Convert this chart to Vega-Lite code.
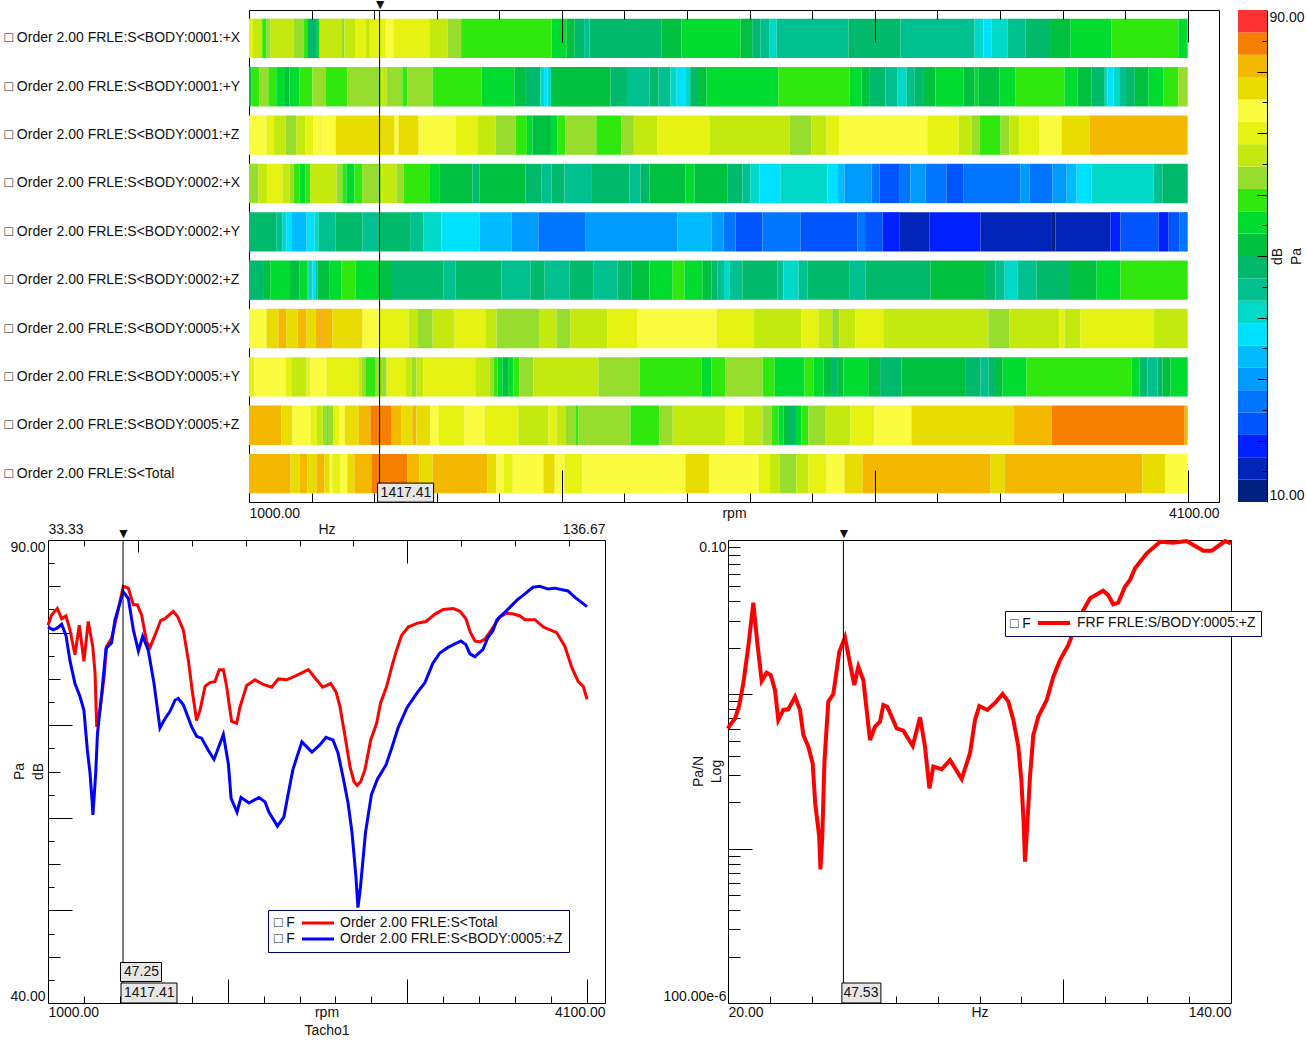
{"$schema":"https://vega.github.io/schema/vega-lite/v6.json","usermeta":{"embedOptions":{"actions":false}},"padding":{"left":1,"top":-4,"right":0,"bottom":0},"spacing":0,
"config":{"font":"Liberation Sans","view":{"stroke":"#000"},"axis":{"labelFontSize":14,"titleFontSize":14,"titleFontWeight":"normal","labelColor":"#111","titleColor":"#111","grid":false,"domain":false,"tickColor":"#000","labelOverlap":false,"labelBound":false,"title":null},"text":{"fontSize":14,"color":"#111"}},
"datasets":{"strips":[
{"ch":"0001:+X","from":1000,"to":1013,"db":70},{"ch":"0001:+X","from":1013,"to":1042,"db":66},{"ch":"0001:+X","from":1042,"to":1056,"db":59},{"ch":"0001:+X","from":1056,"to":1069,"db":63},{"ch":"0001:+X","from":1069,"to":1142,"db":66},{"ch":"0001:+X","from":1142,"to":1174,"db":63},{"ch":"0001:+X","from":1174,"to":1186,"db":59},{"ch":"0001:+X","from":1186,"to":1217,"db":48},{"ch":"0001:+X","from":1217,"to":1225,"db":55},{"ch":"0001:+X","from":1225,"to":1297,"db":66},{"ch":"0001:+X","from":1297,"to":1305,"db":63},{"ch":"0001:+X","from":1305,"to":1341,"db":66},{"ch":"0001:+X","from":1341,"to":1374,"db":70},{"ch":"0001:+X","from":1374,"to":1386,"db":66},{"ch":"0001:+X","from":1386,"to":1437,"db":70},{"ch":"0001:+X","from":1437,"to":1461,"db":74},{"ch":"0001:+X","from":1461,"to":1576,"db":70},{"ch":"0001:+X","from":1576,"to":1635,"db":66},{"ch":"0001:+X","from":1635,"to":1678,"db":63},{"ch":"0001:+X","from":1678,"to":1967,"db":59},{"ch":"0001:+X","from":1967,"to":2015,"db":55},{"ch":"0001:+X","from":2015,"to":2041,"db":52},{"ch":"0001:+X","from":2041,"to":2071,"db":48},{"ch":"0001:+X","from":2071,"to":2088,"db":45},{"ch":"0001:+X","from":2088,"to":2319,"db":48},{"ch":"0001:+X","from":2319,"to":2382,"db":52},{"ch":"0001:+X","from":2382,"to":2571,"db":55},{"ch":"0001:+X","from":2571,"to":2608,"db":52},{"ch":"0001:+X","from":2608,"to":2634,"db":48},{"ch":"0001:+X","from":2634,"to":2664,"db":45},{"ch":"0001:+X","from":2664,"to":2686,"db":41},{"ch":"0001:+X","from":2686,"to":2916,"db":45},{"ch":"0001:+X","from":2916,"to":3082,"db":48},{"ch":"0001:+X","from":3082,"to":3319,"db":45},{"ch":"0001:+X","from":3319,"to":3347,"db":41},{"ch":"0001:+X","from":3347,"to":3374,"db":37},{"ch":"0001:+X","from":3374,"to":3424,"db":41},{"ch":"0001:+X","from":3424,"to":3482,"db":45},{"ch":"0001:+X","from":3482,"to":3560,"db":48},{"ch":"0001:+X","from":3560,"to":3625,"db":52},{"ch":"0001:+X","from":3625,"to":3756,"db":55},{"ch":"0001:+X","from":3756,"to":3970,"db":59},{"ch":"0001:+X","from":3970,"to":4000,"db":55},
{"ch":"0001:+Y","from":1000,"to":1007,"db":52},{"ch":"0001:+Y","from":1007,"to":1033,"db":59},{"ch":"0001:+Y","from":1033,"to":1062,"db":63},{"ch":"0001:+Y","from":1062,"to":1087,"db":59},{"ch":"0001:+Y","from":1087,"to":1115,"db":55},{"ch":"0001:+Y","from":1115,"to":1129,"db":52},{"ch":"0001:+Y","from":1129,"to":1162,"db":55},{"ch":"0001:+Y","from":1162,"to":1203,"db":59},{"ch":"0001:+Y","from":1203,"to":1244,"db":63},{"ch":"0001:+Y","from":1244,"to":1314,"db":59},{"ch":"0001:+Y","from":1314,"to":1423,"db":63},{"ch":"0001:+Y","from":1423,"to":1440,"db":66},{"ch":"0001:+Y","from":1440,"to":1490,"db":63},{"ch":"0001:+Y","from":1490,"to":1506,"db":59},{"ch":"0001:+Y","from":1506,"to":1587,"db":63},{"ch":"0001:+Y","from":1587,"to":1743,"db":59},{"ch":"0001:+Y","from":1743,"to":1848,"db":55},{"ch":"0001:+Y","from":1848,"to":1885,"db":52},{"ch":"0001:+Y","from":1885,"to":1931,"db":48},{"ch":"0001:+Y","from":1931,"to":1943,"db":41},{"ch":"0001:+Y","from":1943,"to":1954,"db":37},{"ch":"0001:+Y","from":1954,"to":1965,"db":41},{"ch":"0001:+Y","from":1965,"to":2155,"db":52},{"ch":"0001:+Y","from":2155,"to":2208,"db":48},{"ch":"0001:+Y","from":2208,"to":2280,"db":45},{"ch":"0001:+Y","from":2280,"to":2309,"db":48},{"ch":"0001:+Y","from":2309,"to":2347,"db":45},{"ch":"0001:+Y","from":2347,"to":2367,"db":41},{"ch":"0001:+Y","from":2367,"to":2394,"db":37},{"ch":"0001:+Y","from":2394,"to":2410,"db":41},{"ch":"0001:+Y","from":2410,"to":2435,"db":48},{"ch":"0001:+Y","from":2435,"to":2462,"db":52},{"ch":"0001:+Y","from":2462,"to":2692,"db":55},{"ch":"0001:+Y","from":2692,"to":2919,"db":59},{"ch":"0001:+Y","from":2919,"to":2958,"db":55},{"ch":"0001:+Y","from":2958,"to":2982,"db":52},{"ch":"0001:+Y","from":2982,"to":3034,"db":48},{"ch":"0001:+Y","from":3034,"to":3073,"db":45},{"ch":"0001:+Y","from":3073,"to":3101,"db":41},{"ch":"0001:+Y","from":3101,"to":3126,"db":45},{"ch":"0001:+Y","from":3126,"to":3157,"db":48},{"ch":"0001:+Y","from":3157,"to":3194,"db":52},{"ch":"0001:+Y","from":3194,"to":3284,"db":55},{"ch":"0001:+Y","from":3284,"to":3319,"db":52},{"ch":"0001:+Y","from":3319,"to":3331,"db":55},{"ch":"0001:+Y","from":3331,"to":3399,"db":52},{"ch":"0001:+Y","from":3399,"to":3450,"db":55},{"ch":"0001:+Y","from":3450,"to":3606,"db":59},{"ch":"0001:+Y","from":3606,"to":3648,"db":55},{"ch":"0001:+Y","from":3648,"to":3692,"db":52},{"ch":"0001:+Y","from":3692,"to":3735,"db":48},{"ch":"0001:+Y","from":3735,"to":3743,"db":41},{"ch":"0001:+Y","from":3743,"to":3763,"db":37},{"ch":"0001:+Y","from":3763,"to":3781,"db":41},{"ch":"0001:+Y","from":3781,"to":3800,"db":45},{"ch":"0001:+Y","from":3800,"to":3831,"db":48},{"ch":"0001:+Y","from":3831,"to":3875,"db":52},{"ch":"0001:+Y","from":3875,"to":3923,"db":55},{"ch":"0001:+Y","from":3923,"to":3970,"db":59},{"ch":"0001:+Y","from":3970,"to":4000,"db":63},
{"ch":"0001:+Z","from":1000,"to":1056,"db":74},{"ch":"0001:+Z","from":1056,"to":1078,"db":70},{"ch":"0001:+Z","from":1078,"to":1117,"db":66},{"ch":"0001:+Z","from":1117,"to":1151,"db":63},{"ch":"0001:+Z","from":1151,"to":1180,"db":66},{"ch":"0001:+Z","from":1180,"to":1205,"db":70},{"ch":"0001:+Z","from":1205,"to":1227,"db":74},{"ch":"0001:+Z","from":1227,"to":1229,"db":77},{"ch":"0001:+Z","from":1229,"to":1277,"db":74},{"ch":"0001:+Z","from":1277,"to":1465,"db":77},{"ch":"0001:+Z","from":1465,"to":1478,"db":74},{"ch":"0001:+Z","from":1478,"to":1542,"db":77},{"ch":"0001:+Z","from":1542,"to":1660,"db":74},{"ch":"0001:+Z","from":1660,"to":1730,"db":70},{"ch":"0001:+Z","from":1730,"to":1788,"db":66},{"ch":"0001:+Z","from":1788,"to":1852,"db":63},{"ch":"0001:+Z","from":1852,"to":1888,"db":59},{"ch":"0001:+Z","from":1888,"to":1906,"db":55},{"ch":"0001:+Z","from":1906,"to":1965,"db":52},{"ch":"0001:+Z","from":1965,"to":1986,"db":55},{"ch":"0001:+Z","from":1986,"to":2011,"db":59},{"ch":"0001:+Z","from":2011,"to":2110,"db":63},{"ch":"0001:+Z","from":2110,"to":2190,"db":59},{"ch":"0001:+Z","from":2190,"to":2230,"db":63},{"ch":"0001:+Z","from":2230,"to":2305,"db":66},{"ch":"0001:+Z","from":2305,"to":2471,"db":70},{"ch":"0001:+Z","from":2471,"to":2728,"db":66},{"ch":"0001:+Z","from":2728,"to":2797,"db":63},{"ch":"0001:+Z","from":2797,"to":2846,"db":66},{"ch":"0001:+Z","from":2846,"to":2887,"db":70},{"ch":"0001:+Z","from":2887,"to":3168,"db":74},{"ch":"0001:+Z","from":3168,"to":3268,"db":70},{"ch":"0001:+Z","from":3268,"to":3309,"db":66},{"ch":"0001:+Z","from":3309,"to":3335,"db":63},{"ch":"0001:+Z","from":3335,"to":3402,"db":59},{"ch":"0001:+Z","from":3402,"to":3430,"db":63},{"ch":"0001:+Z","from":3430,"to":3462,"db":66},{"ch":"0001:+Z","from":3462,"to":3526,"db":70},{"ch":"0001:+Z","from":3526,"to":3597,"db":74},{"ch":"0001:+Z","from":3597,"to":3687,"db":77},{"ch":"0001:+Z","from":3687,"to":4000,"db":81},
{"ch":"0002:+X","from":1000,"to":1030,"db":63},{"ch":"0002:+X","from":1030,"to":1058,"db":66},{"ch":"0002:+X","from":1058,"to":1107,"db":70},{"ch":"0002:+X","from":1107,"to":1130,"db":66},{"ch":"0002:+X","from":1130,"to":1142,"db":63},{"ch":"0002:+X","from":1142,"to":1162,"db":59},{"ch":"0002:+X","from":1162,"to":1180,"db":55},{"ch":"0002:+X","from":1180,"to":1196,"db":59},{"ch":"0002:+X","from":1196,"to":1280,"db":66},{"ch":"0002:+X","from":1280,"to":1298,"db":63},{"ch":"0002:+X","from":1298,"to":1311,"db":59},{"ch":"0002:+X","from":1311,"to":1337,"db":55},{"ch":"0002:+X","from":1337,"to":1363,"db":59},{"ch":"0002:+X","from":1363,"to":1423,"db":63},{"ch":"0002:+X","from":1423,"to":1472,"db":66},{"ch":"0002:+X","from":1472,"to":1494,"db":63},{"ch":"0002:+X","from":1494,"to":1576,"db":59},{"ch":"0002:+X","from":1576,"to":1608,"db":55},{"ch":"0002:+X","from":1608,"to":1714,"db":52},{"ch":"0002:+X","from":1714,"to":1737,"db":48},{"ch":"0002:+X","from":1737,"to":1884,"db":52},{"ch":"0002:+X","from":1884,"to":1934,"db":48},{"ch":"0002:+X","from":1934,"to":1967,"db":45},{"ch":"0002:+X","from":1967,"to":2008,"db":48},{"ch":"0002:+X","from":2008,"to":2096,"db":45},{"ch":"0002:+X","from":2096,"to":2216,"db":48},{"ch":"0002:+X","from":2216,"to":2251,"db":45},{"ch":"0002:+X","from":2251,"to":2280,"db":48},{"ch":"0002:+X","from":2280,"to":2395,"db":52},{"ch":"0002:+X","from":2395,"to":2424,"db":55},{"ch":"0002:+X","from":2424,"to":2529,"db":52},{"ch":"0002:+X","from":2529,"to":2577,"db":48},{"ch":"0002:+X","from":2577,"to":2602,"db":45},{"ch":"0002:+X","from":2602,"to":2632,"db":41},{"ch":"0002:+X","from":2632,"to":2698,"db":37},{"ch":"0002:+X","from":2698,"to":2848,"db":41},{"ch":"0002:+X","from":2848,"to":2880,"db":37},{"ch":"0002:+X","from":2880,"to":2903,"db":34},{"ch":"0002:+X","from":2903,"to":2990,"db":30},{"ch":"0002:+X","from":2990,"to":3015,"db":26},{"ch":"0002:+X","from":3015,"to":3080,"db":23},{"ch":"0002:+X","from":3080,"to":3114,"db":26},{"ch":"0002:+X","from":3114,"to":3162,"db":30},{"ch":"0002:+X","from":3162,"to":3229,"db":26},{"ch":"0002:+X","from":3229,"to":3284,"db":23},{"ch":"0002:+X","from":3284,"to":3466,"db":26},{"ch":"0002:+X","from":3466,"to":3494,"db":30},{"ch":"0002:+X","from":3494,"to":3568,"db":26},{"ch":"0002:+X","from":3568,"to":3613,"db":30},{"ch":"0002:+X","from":3613,"to":3645,"db":34},{"ch":"0002:+X","from":3645,"to":3692,"db":37},{"ch":"0002:+X","from":3692,"to":3891,"db":41},{"ch":"0002:+X","from":3891,"to":3919,"db":45},{"ch":"0002:+X","from":3919,"to":4000,"db":48},
{"ch":"0002:+Y","from":1000,"to":1087,"db":48},{"ch":"0002:+Y","from":1087,"to":1106,"db":45},{"ch":"0002:+Y","from":1106,"to":1119,"db":41},{"ch":"0002:+Y","from":1119,"to":1135,"db":37},{"ch":"0002:+Y","from":1135,"to":1184,"db":34},{"ch":"0002:+Y","from":1184,"to":1209,"db":37},{"ch":"0002:+Y","from":1209,"to":1223,"db":41},{"ch":"0002:+Y","from":1223,"to":1277,"db":45},{"ch":"0002:+Y","from":1277,"to":1363,"db":48},{"ch":"0002:+Y","from":1363,"to":1419,"db":45},{"ch":"0002:+Y","from":1419,"to":1515,"db":48},{"ch":"0002:+Y","from":1515,"to":1558,"db":45},{"ch":"0002:+Y","from":1558,"to":1615,"db":41},{"ch":"0002:+Y","from":1615,"to":1737,"db":37},{"ch":"0002:+Y","from":1737,"to":1839,"db":34},{"ch":"0002:+Y","from":1839,"to":1925,"db":30},{"ch":"0002:+Y","from":1925,"to":2076,"db":26},{"ch":"0002:+Y","from":2076,"to":2370,"db":30},{"ch":"0002:+Y","from":2370,"to":2478,"db":34},{"ch":"0002:+Y","from":2478,"to":2517,"db":30},{"ch":"0002:+Y","from":2517,"to":2555,"db":26},{"ch":"0002:+Y","from":2555,"to":2641,"db":23},{"ch":"0002:+Y","from":2641,"to":2763,"db":26},{"ch":"0002:+Y","from":2763,"to":2944,"db":23},{"ch":"0002:+Y","from":2944,"to":2969,"db":26},{"ch":"0002:+Y","from":2969,"to":3025,"db":23},{"ch":"0002:+Y","from":3025,"to":3080,"db":19},{"ch":"0002:+Y","from":3080,"to":3174,"db":16},{"ch":"0002:+Y","from":3174,"to":3338,"db":19},{"ch":"0002:+Y","from":3338,"to":3566,"db":16},{"ch":"0002:+Y","from":3566,"to":3577,"db":12},{"ch":"0002:+Y","from":3577,"to":3753,"db":16},{"ch":"0002:+Y","from":3753,"to":3785,"db":19},{"ch":"0002:+Y","from":3785,"to":3907,"db":23},{"ch":"0002:+Y","from":3907,"to":3939,"db":19},{"ch":"0002:+Y","from":3939,"to":3974,"db":23},{"ch":"0002:+Y","from":3974,"to":4000,"db":26},
{"ch":"0002:+Z","from":1000,"to":1045,"db":48},{"ch":"0002:+Z","from":1045,"to":1069,"db":52},{"ch":"0002:+Z","from":1069,"to":1131,"db":55},{"ch":"0002:+Z","from":1131,"to":1162,"db":52},{"ch":"0002:+Z","from":1162,"to":1187,"db":55},{"ch":"0002:+Z","from":1187,"to":1191,"db":45},{"ch":"0002:+Z","from":1191,"to":1203,"db":41},{"ch":"0002:+Z","from":1203,"to":1212,"db":37},{"ch":"0002:+Z","from":1212,"to":1219,"db":45},{"ch":"0002:+Z","from":1219,"to":1256,"db":52},{"ch":"0002:+Z","from":1256,"to":1295,"db":55},{"ch":"0002:+Z","from":1295,"to":1341,"db":59},{"ch":"0002:+Z","from":1341,"to":1419,"db":55},{"ch":"0002:+Z","from":1419,"to":1457,"db":52},{"ch":"0002:+Z","from":1457,"to":1621,"db":48},{"ch":"0002:+Z","from":1621,"to":1660,"db":45},{"ch":"0002:+Z","from":1660,"to":1807,"db":48},{"ch":"0002:+Z","from":1807,"to":1900,"db":45},{"ch":"0002:+Z","from":1900,"to":1945,"db":48},{"ch":"0002:+Z","from":1945,"to":2024,"db":45},{"ch":"0002:+Z","from":2024,"to":2100,"db":48},{"ch":"0002:+Z","from":2100,"to":2178,"db":45},{"ch":"0002:+Z","from":2178,"to":2222,"db":48},{"ch":"0002:+Z","from":2222,"to":2280,"db":52},{"ch":"0002:+Z","from":2280,"to":2354,"db":55},{"ch":"0002:+Z","from":2354,"to":2392,"db":59},{"ch":"0002:+Z","from":2392,"to":2450,"db":55},{"ch":"0002:+Z","from":2450,"to":2478,"db":52},{"ch":"0002:+Z","from":2478,"to":2498,"db":48},{"ch":"0002:+Z","from":2498,"to":2518,"db":45},{"ch":"0002:+Z","from":2518,"to":2535,"db":41},{"ch":"0002:+Z","from":2535,"to":2577,"db":45},{"ch":"0002:+Z","from":2577,"to":2689,"db":48},{"ch":"0002:+Z","from":2689,"to":2708,"db":45},{"ch":"0002:+Z","from":2708,"to":2756,"db":41},{"ch":"0002:+Z","from":2756,"to":2785,"db":45},{"ch":"0002:+Z","from":2785,"to":2918,"db":48},{"ch":"0002:+Z","from":2918,"to":2970,"db":45},{"ch":"0002:+Z","from":2970,"to":3178,"db":48},{"ch":"0002:+Z","from":3178,"to":3352,"db":52},{"ch":"0002:+Z","from":3352,"to":3386,"db":48},{"ch":"0002:+Z","from":3386,"to":3415,"db":45},{"ch":"0002:+Z","from":3415,"to":3457,"db":41},{"ch":"0002:+Z","from":3457,"to":3517,"db":45},{"ch":"0002:+Z","from":3517,"to":3624,"db":48},{"ch":"0002:+Z","from":3624,"to":3708,"db":52},{"ch":"0002:+Z","from":3708,"to":3785,"db":55},{"ch":"0002:+Z","from":3785,"to":4000,"db":59},
{"ch":"0005:+X","from":1000,"to":1056,"db":74},{"ch":"0005:+X","from":1056,"to":1094,"db":77},{"ch":"0005:+X","from":1094,"to":1119,"db":81},{"ch":"0005:+X","from":1119,"to":1155,"db":77},{"ch":"0005:+X","from":1155,"to":1184,"db":81},{"ch":"0005:+X","from":1184,"to":1212,"db":77},{"ch":"0005:+X","from":1212,"to":1225,"db":81},{"ch":"0005:+X","from":1225,"to":1229,"db":85},{"ch":"0005:+X","from":1229,"to":1266,"db":81},{"ch":"0005:+X","from":1266,"to":1363,"db":77},{"ch":"0005:+X","from":1363,"to":1419,"db":74},{"ch":"0005:+X","from":1419,"to":1510,"db":70},{"ch":"0005:+X","from":1510,"to":1538,"db":66},{"ch":"0005:+X","from":1538,"to":1587,"db":63},{"ch":"0005:+X","from":1587,"to":1657,"db":66},{"ch":"0005:+X","from":1657,"to":1755,"db":70},{"ch":"0005:+X","from":1755,"to":1791,"db":66},{"ch":"0005:+X","from":1791,"to":1929,"db":63},{"ch":"0005:+X","from":1929,"to":1983,"db":66},{"ch":"0005:+X","from":1983,"to":2027,"db":63},{"ch":"0005:+X","from":2027,"to":2146,"db":66},{"ch":"0005:+X","from":2146,"to":2242,"db":70},{"ch":"0005:+X","from":2242,"to":2494,"db":74},{"ch":"0005:+X","from":2494,"to":2613,"db":70},{"ch":"0005:+X","from":2613,"to":2765,"db":66},{"ch":"0005:+X","from":2765,"to":2820,"db":70},{"ch":"0005:+X","from":2820,"to":2864,"db":66},{"ch":"0005:+X","from":2864,"to":2887,"db":63},{"ch":"0005:+X","from":2887,"to":2938,"db":66},{"ch":"0005:+X","from":2938,"to":3027,"db":70},{"ch":"0005:+X","from":3027,"to":3363,"db":66},{"ch":"0005:+X","from":3363,"to":3430,"db":63},{"ch":"0005:+X","from":3430,"to":3590,"db":66},{"ch":"0005:+X","from":3590,"to":3606,"db":70},{"ch":"0005:+X","from":3606,"to":3657,"db":66},{"ch":"0005:+X","from":3657,"to":3891,"db":70},{"ch":"0005:+X","from":3891,"to":4000,"db":66},
{"ch":"0005:+Y","from":1000,"to":1017,"db":70},{"ch":"0005:+Y","from":1017,"to":1117,"db":74},{"ch":"0005:+Y","from":1117,"to":1135,"db":70},{"ch":"0005:+Y","from":1135,"to":1184,"db":66},{"ch":"0005:+Y","from":1184,"to":1196,"db":70},{"ch":"0005:+Y","from":1196,"to":1248,"db":74},{"ch":"0005:+Y","from":1248,"to":1350,"db":70},{"ch":"0005:+Y","from":1350,"to":1359,"db":66},{"ch":"0005:+Y","from":1359,"to":1372,"db":63},{"ch":"0005:+Y","from":1372,"to":1405,"db":59},{"ch":"0005:+Y","from":1405,"to":1440,"db":63},{"ch":"0005:+Y","from":1440,"to":1500,"db":70},{"ch":"0005:+Y","from":1500,"to":1519,"db":66},{"ch":"0005:+Y","from":1519,"to":1535,"db":63},{"ch":"0005:+Y","from":1535,"to":1558,"db":66},{"ch":"0005:+Y","from":1558,"to":1723,"db":70},{"ch":"0005:+Y","from":1723,"to":1769,"db":66},{"ch":"0005:+Y","from":1769,"to":1782,"db":63},{"ch":"0005:+Y","from":1782,"to":1794,"db":59},{"ch":"0005:+Y","from":1794,"to":1810,"db":55},{"ch":"0005:+Y","from":1810,"to":1828,"db":52},{"ch":"0005:+Y","from":1828,"to":1845,"db":55},{"ch":"0005:+Y","from":1845,"to":1864,"db":59},{"ch":"0005:+Y","from":1864,"to":1909,"db":63},{"ch":"0005:+Y","from":1909,"to":2117,"db":66},{"ch":"0005:+Y","from":2117,"to":2248,"db":63},{"ch":"0005:+Y","from":2248,"to":2446,"db":59},{"ch":"0005:+Y","from":2446,"to":2478,"db":55},{"ch":"0005:+Y","from":2478,"to":2523,"db":59},{"ch":"0005:+Y","from":2523,"to":2641,"db":63},{"ch":"0005:+Y","from":2641,"to":2680,"db":59},{"ch":"0005:+Y","from":2680,"to":2775,"db":55},{"ch":"0005:+Y","from":2775,"to":2804,"db":59},{"ch":"0005:+Y","from":2804,"to":2836,"db":55},{"ch":"0005:+Y","from":2836,"to":2863,"db":52},{"ch":"0005:+Y","from":2863,"to":2882,"db":48},{"ch":"0005:+Y","from":2882,"to":2900,"db":52},{"ch":"0005:+Y","from":2900,"to":2979,"db":55},{"ch":"0005:+Y","from":2979,"to":3017,"db":52},{"ch":"0005:+Y","from":3017,"to":3085,"db":48},{"ch":"0005:+Y","from":3085,"to":3291,"db":52},{"ch":"0005:+Y","from":3291,"to":3338,"db":48},{"ch":"0005:+Y","from":3338,"to":3363,"db":45},{"ch":"0005:+Y","from":3363,"to":3384,"db":48},{"ch":"0005:+Y","from":3384,"to":3408,"db":52},{"ch":"0005:+Y","from":3408,"to":3485,"db":55},{"ch":"0005:+Y","from":3485,"to":3820,"db":59},{"ch":"0005:+Y","from":3820,"to":3846,"db":55},{"ch":"0005:+Y","from":3846,"to":3871,"db":48},{"ch":"0005:+Y","from":3871,"to":3904,"db":45},{"ch":"0005:+Y","from":3904,"to":3919,"db":48},{"ch":"0005:+Y","from":3919,"to":3945,"db":52},{"ch":"0005:+Y","from":3945,"to":4000,"db":55},
{"ch":"0005:+Z","from":1000,"to":1103,"db":81},{"ch":"0005:+Z","from":1103,"to":1139,"db":77},{"ch":"0005:+Z","from":1139,"to":1196,"db":74},{"ch":"0005:+Z","from":1196,"to":1217,"db":70},{"ch":"0005:+Z","from":1217,"to":1236,"db":66},{"ch":"0005:+Z","from":1236,"to":1248,"db":63},{"ch":"0005:+Z","from":1248,"to":1252,"db":59},{"ch":"0005:+Z","from":1252,"to":1270,"db":63},{"ch":"0005:+Z","from":1270,"to":1289,"db":70},{"ch":"0005:+Z","from":1289,"to":1306,"db":74},{"ch":"0005:+Z","from":1306,"to":1350,"db":77},{"ch":"0005:+Z","from":1350,"to":1388,"db":81},{"ch":"0005:+Z","from":1388,"to":1456,"db":85},{"ch":"0005:+Z","from":1456,"to":1488,"db":81},{"ch":"0005:+Z","from":1488,"to":1522,"db":77},{"ch":"0005:+Z","from":1522,"to":1535,"db":81},{"ch":"0005:+Z","from":1535,"to":1580,"db":77},{"ch":"0005:+Z","from":1580,"to":1607,"db":74},{"ch":"0005:+Z","from":1607,"to":1689,"db":70},{"ch":"0005:+Z","from":1689,"to":1753,"db":74},{"ch":"0005:+Z","from":1753,"to":1861,"db":70},{"ch":"0005:+Z","from":1861,"to":1957,"db":66},{"ch":"0005:+Z","from":1957,"to":1983,"db":70},{"ch":"0005:+Z","from":1983,"to":2011,"db":66},{"ch":"0005:+Z","from":2011,"to":2043,"db":63},{"ch":"0005:+Z","from":2043,"to":2053,"db":59},{"ch":"0005:+Z","from":2053,"to":2219,"db":63},{"ch":"0005:+Z","from":2219,"to":2312,"db":59},{"ch":"0005:+Z","from":2312,"to":2354,"db":63},{"ch":"0005:+Z","from":2354,"to":2523,"db":66},{"ch":"0005:+Z","from":2523,"to":2581,"db":70},{"ch":"0005:+Z","from":2581,"to":2641,"db":66},{"ch":"0005:+Z","from":2641,"to":2670,"db":63},{"ch":"0005:+Z","from":2670,"to":2692,"db":59},{"ch":"0005:+Z","from":2692,"to":2708,"db":55},{"ch":"0005:+Z","from":2708,"to":2729,"db":52},{"ch":"0005:+Z","from":2729,"to":2748,"db":48},{"ch":"0005:+Z","from":2748,"to":2765,"db":55},{"ch":"0005:+Z","from":2765,"to":2788,"db":59},{"ch":"0005:+Z","from":2788,"to":2843,"db":63},{"ch":"0005:+Z","from":2843,"to":2922,"db":66},{"ch":"0005:+Z","from":2922,"to":2999,"db":70},{"ch":"0005:+Z","from":2999,"to":3117,"db":74},{"ch":"0005:+Z","from":3117,"to":3443,"db":77},{"ch":"0005:+Z","from":3443,"to":3565,"db":81},{"ch":"0005:+Z","from":3565,"to":3990,"db":85},{"ch":"0005:+Z","from":3990,"to":4000,"db":81},
{"ch":"Total","from":1000,"to":1133,"db":81},{"ch":"Total","from":1133,"to":1162,"db":77},{"ch":"Total","from":1162,"to":1187,"db":81},{"ch":"Total","from":1187,"to":1216,"db":77},{"ch":"Total","from":1216,"to":1241,"db":81},{"ch":"Total","from":1241,"to":1258,"db":77},{"ch":"Total","from":1258,"to":1266,"db":74},{"ch":"Total","from":1266,"to":1293,"db":70},{"ch":"Total","from":1293,"to":1314,"db":74},{"ch":"Total","from":1314,"to":1337,"db":77},{"ch":"Total","from":1337,"to":1391,"db":81},{"ch":"Total","from":1391,"to":1506,"db":85},{"ch":"Total","from":1506,"to":1545,"db":81},{"ch":"Total","from":1545,"to":1587,"db":77},{"ch":"Total","from":1587,"to":1762,"db":81},{"ch":"Total","from":1762,"to":1791,"db":77},{"ch":"Total","from":1791,"to":1814,"db":74},{"ch":"Total","from":1814,"to":1843,"db":70},{"ch":"Total","from":1843,"to":1941,"db":74},{"ch":"Total","from":1941,"to":1977,"db":77},{"ch":"Total","from":1977,"to":2008,"db":74},{"ch":"Total","from":2008,"to":2065,"db":70},{"ch":"Total","from":2065,"to":2395,"db":74},{"ch":"Total","from":2395,"to":2471,"db":77},{"ch":"Total","from":2471,"to":2629,"db":74},{"ch":"Total","from":2629,"to":2664,"db":70},{"ch":"Total","from":2664,"to":2696,"db":66},{"ch":"Total","from":2696,"to":2749,"db":63},{"ch":"Total","from":2749,"to":2788,"db":66},{"ch":"Total","from":2788,"to":2846,"db":70},{"ch":"Total","from":2846,"to":2903,"db":74},{"ch":"Total","from":2903,"to":2961,"db":77},{"ch":"Total","from":2961,"to":3370,"db":81},{"ch":"Total","from":3370,"to":3415,"db":77},{"ch":"Total","from":3415,"to":3855,"db":81},{"ch":"Total","from":3855,"to":3929,"db":77},{"ch":"Total","from":3929,"to":4000,"db":74}
],
"bands":[{"lo":10,"hi":13.64,"db":12},{"lo":13.64,"hi":17.27,"db":16},{"lo":17.27,"hi":20.91,"db":19},{"lo":20.91,"hi":24.55,"db":23},{"lo":24.55,"hi":28.18,"db":26},{"lo":28.18,"hi":31.82,"db":30},{"lo":31.82,"hi":35.45,"db":34},{"lo":35.45,"hi":39.09,"db":37},{"lo":39.09,"hi":42.73,"db":41},{"lo":42.73,"hi":46.36,"db":45},{"lo":46.36,"hi":50,"db":48},{"lo":50,"hi":53.64,"db":52},{"lo":53.64,"hi":57.27,"db":55},{"lo":57.27,"hi":60.91,"db":59},{"lo":60.91,"hi":64.55,"db":63},{"lo":64.55,"hi":68.18,"db":66},{"lo":68.18,"hi":71.82,"db":70},{"lo":71.82,"hi":75.45,"db":74},{"lo":75.45,"hi":79.09,"db":77},{"lo":79.09,"hi":82.73,"db":81},{"lo":82.73,"hi":86.36,"db":85},{"lo":86.36,"hi":90,"db":88}],
"orders":[
{"series":"Total","rpm":1000,"dB":80.8},{"series":"Total","rpm":1020,"dB":81.9},{"series":"Total","rpm":1052,"dB":82.6},{"series":"Total","rpm":1076,"dB":81.5},{"series":"Total","rpm":1100,"dB":81.8},{"series":"Total","rpm":1122,"dB":80.3},{"series":"Total","rpm":1150,"dB":77.6},{"series":"Total","rpm":1174,"dB":80.8},{"series":"Total","rpm":1200,"dB":76.9},{"series":"Total","rpm":1224,"dB":81.2},{"series":"Total","rpm":1249,"dB":78.5},{"series":"Total","rpm":1262,"dB":75.6},{"series":"Total","rpm":1271,"dB":69.8},{"series":"Total","rpm":1289,"dB":71.6},{"series":"Total","rpm":1312,"dB":75.2},{"series":"Total","rpm":1326,"dB":78.5},{"series":"Total","rpm":1354,"dB":79.4},{"series":"Total","rpm":1382,"dB":81.7},{"series":"Total","rpm":1419,"dB":85},{"series":"Total","rpm":1447,"dB":84.8},{"series":"Total","rpm":1475,"dB":83},{"series":"Total","rpm":1497,"dB":83},{"series":"Total","rpm":1521,"dB":81.9},{"series":"Total","rpm":1549,"dB":79},{"series":"Total","rpm":1568,"dB":78.4},{"series":"Total","rpm":1595,"dB":79.7},{"series":"Total","rpm":1627,"dB":81.3},{"series":"Total","rpm":1651,"dB":81.5},{"series":"Total","rpm":1697,"dB":82.3},{"series":"Total","rpm":1722,"dB":81.7},{"series":"Total","rpm":1753,"dB":80.3},{"series":"Total","rpm":1781,"dB":77},{"series":"Total","rpm":1805,"dB":73.4},{"series":"Total","rpm":1827,"dB":70.5},{"series":"Total","rpm":1846,"dB":71.6},{"series":"Total","rpm":1874,"dB":74.2},{"series":"Total","rpm":1901,"dB":74.6},{"series":"Total","rpm":1929,"dB":74.7},{"series":"Total","rpm":1953,"dB":76},{"series":"Total","rpm":1976,"dB":76},{"series":"Total","rpm":1994,"dB":74.2},{"series":"Total","rpm":2022,"dB":70.4},{"series":"Total","rpm":2050,"dB":70.2},{"series":"Total","rpm":2069,"dB":72},{"series":"Total","rpm":2106,"dB":74.3},{"series":"Total","rpm":2152,"dB":74.9},{"series":"Total","rpm":2198,"dB":74.4},{"series":"Total","rpm":2245,"dB":74.1},{"series":"Total","rpm":2282,"dB":75},{"series":"Total","rpm":2328,"dB":74.9},{"series":"Total","rpm":2375,"dB":75.3},{"series":"Total","rpm":2449,"dB":76},{"series":"Total","rpm":2486,"dB":75.1},{"series":"Total","rpm":2529,"dB":74.1},{"series":"Total","rpm":2573,"dB":74.5},{"series":"Total","rpm":2603,"dB":73.6},{"series":"Total","rpm":2625,"dB":72},{"series":"Total","rpm":2653,"dB":68.8},{"series":"Total","rpm":2681,"dB":65.5},{"series":"Total","rpm":2703,"dB":63.9},{"series":"Total","rpm":2721,"dB":63.5},{"series":"Total","rpm":2740,"dB":63.9},{"series":"Total","rpm":2764,"dB":65.2},{"series":"Total","rpm":2796,"dB":68.4},{"series":"Total","rpm":2829,"dB":70.2},{"series":"Total","rpm":2851,"dB":72.4},{"series":"Total","rpm":2885,"dB":74.2},{"series":"Total","rpm":2913,"dB":76.3},{"series":"Total","rpm":2940,"dB":78.1},{"series":"Total","rpm":2968,"dB":79.7},{"series":"Total","rpm":3005,"dB":80.6},{"series":"Total","rpm":3052,"dB":81},{"series":"Total","rpm":3104,"dB":81.2},{"series":"Total","rpm":3154,"dB":82},{"series":"Total","rpm":3200,"dB":82.5},{"series":"Total","rpm":3256,"dB":82.6},{"series":"Total","rpm":3293,"dB":82.3},{"series":"Total","rpm":3326,"dB":81.5},{"series":"Total","rpm":3349,"dB":80.1},{"series":"Total","rpm":3376,"dB":79.1},{"series":"Total","rpm":3404,"dB":79},{"series":"Total","rpm":3432,"dB":79.3},{"series":"Total","rpm":3478,"dB":80.6},{"series":"Total","rpm":3515,"dB":81.7},{"series":"Total","rpm":3552,"dB":82.1},{"series":"Total","rpm":3590,"dB":82},{"series":"Total","rpm":3627,"dB":81.8},{"series":"Total","rpm":3655,"dB":81.4},{"series":"Total","rpm":3710,"dB":81.4},{"series":"Total","rpm":3757,"dB":80.6},{"series":"Total","rpm":3831,"dB":80},{"series":"Total","rpm":3877,"dB":78.5},{"series":"Total","rpm":3914,"dB":76.3},{"series":"Total","rpm":3951,"dB":74.7},{"series":"Total","rpm":3979,"dB":74.2},{"series":"Total","rpm":4000,"dB":72.8},
{"series":"BODY:0005:+Z","rpm":1000,"dB":80.6},{"series":"BODY:0005:+Z","rpm":1030,"dB":80.3},{"series":"BODY:0005:+Z","rpm":1052,"dB":80.5},{"series":"BODY:0005:+Z","rpm":1076,"dB":80.9},{"series":"BODY:0005:+Z","rpm":1100,"dB":79.7},{"series":"BODY:0005:+Z","rpm":1122,"dB":77},{"series":"BODY:0005:+Z","rpm":1150,"dB":74.5},{"series":"BODY:0005:+Z","rpm":1178,"dB":73.1},{"series":"BODY:0005:+Z","rpm":1200,"dB":71.6},{"series":"BODY:0005:+Z","rpm":1219,"dB":67.3},{"series":"BODY:0005:+Z","rpm":1234,"dB":64.8},{"series":"BODY:0005:+Z","rpm":1245,"dB":61.9},{"series":"BODY:0005:+Z","rpm":1250,"dB":60.3},{"series":"BODY:0005:+Z","rpm":1256,"dB":62},{"series":"BODY:0005:+Z","rpm":1266,"dB":65},{"series":"BODY:0005:+Z","rpm":1275,"dB":69},{"series":"BODY:0005:+Z","rpm":1299,"dB":73.4},{"series":"BODY:0005:+Z","rpm":1323,"dB":78.3},{"series":"BODY:0005:+Z","rpm":1354,"dB":78.9},{"series":"BODY:0005:+Z","rpm":1373,"dB":81.4},{"series":"BODY:0005:+Z","rpm":1419,"dB":84.4},{"series":"BODY:0005:+Z","rpm":1447,"dB":83.7},{"series":"BODY:0005:+Z","rpm":1475,"dB":80.3},{"series":"BODY:0005:+Z","rpm":1503,"dB":78},{"series":"BODY:0005:+Z","rpm":1527,"dB":79.6},{"series":"BODY:0005:+Z","rpm":1558,"dB":78.1},{"series":"BODY:0005:+Z","rpm":1590,"dB":74.5},{"series":"BODY:0005:+Z","rpm":1623,"dB":69.7},{"series":"BODY:0005:+Z","rpm":1651,"dB":70.7},{"series":"BODY:0005:+Z","rpm":1679,"dB":71.5},{"series":"BODY:0005:+Z","rpm":1707,"dB":72.7},{"series":"BODY:0005:+Z","rpm":1725,"dB":72.9},{"series":"BODY:0005:+Z","rpm":1753,"dB":72.2},{"series":"BODY:0005:+Z","rpm":1800,"dB":69.8},{"series":"BODY:0005:+Z","rpm":1827,"dB":68.8},{"series":"BODY:0005:+Z","rpm":1855,"dB":68.6},{"series":"BODY:0005:+Z","rpm":1892,"dB":67.3},{"series":"BODY:0005:+Z","rpm":1924,"dB":66.3},{"series":"BODY:0005:+Z","rpm":1976,"dB":69},{"series":"BODY:0005:+Z","rpm":2004,"dB":65.8},{"series":"BODY:0005:+Z","rpm":2019,"dB":62.1},{"series":"BODY:0005:+Z","rpm":2052,"dB":60.6},{"series":"BODY:0005:+Z","rpm":2074,"dB":62.2},{"series":"BODY:0005:+Z","rpm":2119,"dB":61.6},{"series":"BODY:0005:+Z","rpm":2174,"dB":62.2},{"series":"BODY:0005:+Z","rpm":2208,"dB":61.7},{"series":"BODY:0005:+Z","rpm":2230,"dB":60.6},{"series":"BODY:0005:+Z","rpm":2277,"dB":59.1},{"series":"BODY:0005:+Z","rpm":2313,"dB":60.1},{"series":"BODY:0005:+Z","rpm":2338,"dB":62.7},{"series":"BODY:0005:+Z","rpm":2363,"dB":65.2},{"series":"BODY:0005:+Z","rpm":2386,"dB":66.6},{"series":"BODY:0005:+Z","rpm":2413,"dB":68.2},{"series":"BODY:0005:+Z","rpm":2469,"dB":67.1},{"series":"BODY:0005:+Z","rpm":2514,"dB":67.9},{"series":"BODY:0005:+Z","rpm":2547,"dB":68.7},{"series":"BODY:0005:+Z","rpm":2586,"dB":68.4},{"series":"BODY:0005:+Z","rpm":2614,"dB":67},{"series":"BODY:0005:+Z","rpm":2642,"dB":64.4},{"series":"BODY:0005:+Z","rpm":2670,"dB":61.6},{"series":"BODY:0005:+Z","rpm":2692,"dB":58.4},{"series":"BODY:0005:+Z","rpm":2714,"dB":53.6},{"series":"BODY:0005:+Z","rpm":2725,"dB":50.3},{"series":"BODY:0005:+Z","rpm":2739,"dB":52.5},{"series":"BODY:0005:+Z","rpm":2767,"dB":58.4},{"series":"BODY:0005:+Z","rpm":2800,"dB":62.5},{"series":"BODY:0005:+Z","rpm":2834,"dB":64.2},{"series":"BODY:0005:+Z","rpm":2881,"dB":65.7},{"series":"BODY:0005:+Z","rpm":2914,"dB":67.6},{"series":"BODY:0005:+Z","rpm":2948,"dB":69.7},{"series":"BODY:0005:+Z","rpm":2998,"dB":71.9},{"series":"BODY:0005:+Z","rpm":3054,"dB":73.5},{"series":"BODY:0005:+Z","rpm":3098,"dB":74.6},{"series":"BODY:0005:+Z","rpm":3142,"dB":76.7},{"series":"BODY:0005:+Z","rpm":3181,"dB":77.8},{"series":"BODY:0005:+Z","rpm":3226,"dB":78.4},{"series":"BODY:0005:+Z","rpm":3298,"dB":79.1},{"series":"BODY:0005:+Z","rpm":3326,"dB":78.7},{"series":"BODY:0005:+Z","rpm":3348,"dB":77.7},{"series":"BODY:0005:+Z","rpm":3376,"dB":77.4},{"series":"BODY:0005:+Z","rpm":3421,"dB":78.2},{"series":"BODY:0005:+Z","rpm":3449,"dB":79.5},{"series":"BODY:0005:+Z","rpm":3476,"dB":80.2},{"series":"BODY:0005:+Z","rpm":3499,"dB":81.4},{"series":"BODY:0005:+Z","rpm":3554,"dB":82.4},{"series":"BODY:0005:+Z","rpm":3610,"dB":83.5},{"series":"BODY:0005:+Z","rpm":3649,"dB":84.1},{"series":"BODY:0005:+Z","rpm":3699,"dB":84.9},{"series":"BODY:0005:+Z","rpm":3738,"dB":85},{"series":"BODY:0005:+Z","rpm":3783,"dB":84.7},{"series":"BODY:0005:+Z","rpm":3821,"dB":84.8},{"series":"BODY:0005:+Z","rpm":3894,"dB":84.5},{"series":"BODY:0005:+Z","rpm":3933,"dB":83.8},{"series":"BODY:0005:+Z","rpm":4000,"dB":82.8}
],
"frf":[
{"series":"FRF FRLE:S/BODY:0005:+Z","hz":20,"v":0.006},{"series":"FRF FRLE:S/BODY:0005:+Z","hz":20.3,"v":0.00623},{"series":"FRF FRLE:S/BODY:0005:+Z","hz":21.7,"v":0.00699},{"series":"FRF FRLE:S/BODY:0005:+Z","hz":22.7,"v":0.00853},{"series":"FRF FRLE:S/BODY:0005:+Z","hz":23.65,"v":0.01179},{"series":"FRF FRLE:S/BODY:0005:+Z","hz":24.84,"v":0.02035},{"series":"FRF FRLE:S/BODY:0005:+Z","hz":26.04,"v":0.03925},{"series":"FRF FRLE:S/BODY:0005:+Z","hz":27,"v":0.02142},{"series":"FRF FRLE:S/BODY:0005:+Z","hz":28.04,"v":0.0122},{"series":"FRF FRLE:S/BODY:0005:+Z","hz":29.23,"v":0.01381},{"series":"FRF FRLE:S/BODY:0005:+Z","hz":30.19,"v":0.01335},{"series":"FRF FRLE:S/BODY:0005:+Z","hz":31.21,"v":0.01067},{"series":"FRF FRLE:S/BODY:0005:+Z","hz":32,"v":0.00682},{"series":"FRF FRLE:S/BODY:0005:+Z","hz":33.19,"v":0.00792},{"series":"FRF FRLE:S/BODY:0005:+Z","hz":34.39,"v":0.008},{"series":"FRF FRLE:S/BODY:0005:+Z","hz":35.99,"v":0.00965},{"series":"FRF FRLE:S/BODY:0005:+Z","hz":37.18,"v":0.00792},{"series":"FRF FRLE:S/BODY:0005:+Z","hz":37.97,"v":0.00545},{"series":"FRF FRLE:S/BODY:0005:+Z","hz":39.16,"v":0.00458},{"series":"FRF FRLE:S/BODY:0005:+Z","hz":40.2,"v":0.00357},{"series":"FRF FRLE:S/BODY:0005:+Z","hz":40.8,"v":0.00197},{"series":"FRF FRLE:S/BODY:0005:+Z","hz":41.76,"v":0.0012},{"series":"FRF FRLE:S/BODY:0005:+Z","hz":42.05,"v":0.000735},{"series":"FRF FRLE:S/BODY:0005:+Z","hz":42.5,"v":0.0012},{"series":"FRF FRLE:S/BODY:0005:+Z","hz":42.9,"v":0.00293},{"series":"FRF FRLE:S/BODY:0005:+Z","hz":43.03,"v":0.00375},{"series":"FRF FRLE:S/BODY:0005:+Z","hz":43.93,"v":0.00896},{"series":"FRF FRLE:S/BODY:0005:+Z","hz":45.12,"v":0.01005},{"series":"FRF FRLE:S/BODY:0005:+Z","hz":46.56,"v":0.01889},{"series":"FRF FRLE:S/BODY:0005:+Z","hz":47.9,"v":0.02341},{"series":"FRF FRLE:S/BODY:0005:+Z","hz":48.94,"v":0.01669},{"series":"FRF FRLE:S/BODY:0005:+Z","hz":50.13,"v":0.01149},{"series":"FRF FRLE:S/BODY:0005:+Z","hz":51.09,"v":0.0151},{"series":"FRF FRLE:S/BODY:0005:+Z","hz":52.28,"v":0.01239},{"series":"FRF FRLE:S/BODY:0005:+Z","hz":53.88,"v":0.00506},{"series":"FRF FRLE:S/BODY:0005:+Z","hz":55.07,"v":0.00617},{"series":"FRF FRLE:S/BODY:0005:+Z","hz":56.27,"v":0.00665},{"series":"FRF FRLE:S/BODY:0005:+Z","hz":57.05,"v":0.00853},{"series":"FRF FRLE:S/BODY:0005:+Z","hz":58.01,"v":0.00831},{"series":"FRF FRLE:S/BODY:0005:+Z","hz":60.25,"v":0.00602},{"series":"FRF FRLE:S/BODY:0005:+Z","hz":61.83,"v":0.00581},{"series":"FRF FRLE:S/BODY:0005:+Z","hz":64.07,"v":0.00463},{"series":"FRF FRLE:S/BODY:0005:+Z","hz":65.81,"v":0.0071},{"series":"FRF FRLE:S/BODY:0005:+Z","hz":67,"v":0.00458},{"series":"FRF FRLE:S/BODY:0005:+Z","hz":68.05,"v":0.00246},{"series":"FRF FRLE:S/BODY:0005:+Z","hz":68.98,"v":0.0034},{"series":"FRF FRLE:S/BODY:0005:+Z","hz":70.99,"v":0.00327},{"series":"FRF FRLE:S/BODY:0005:+Z","hz":72.97,"v":0.00375},{"series":"FRF FRLE:S/BODY:0005:+Z","hz":75.76,"v":0.00283},{"series":"FRF FRLE:S/BODY:0005:+Z","hz":77.74,"v":0.00417},{"series":"FRF FRLE:S/BODY:0005:+Z","hz":78.93,"v":0.00682},{"series":"FRF FRLE:S/BODY:0005:+Z","hz":79.96,"v":0.0084},{"series":"FRF FRLE:S/BODY:0005:+Z","hz":81.87,"v":0.00792},{"series":"FRF FRLE:S/BODY:0005:+Z","hz":83.7,"v":0.00879},{"series":"FRF FRLE:S/BODY:0005:+Z","hz":85.54,"v":0.01005},{"series":"FRF FRLE:S/BODY:0005:+Z","hz":86.88,"v":0.00896},{"series":"FRF FRLE:S/BODY:0005:+Z","hz":88.07,"v":0.00682},{"series":"FRF FRLE:S/BODY:0005:+Z","hz":89.27,"v":0.00458},{"series":"FRF FRLE:S/BODY:0005:+Z","hz":89.98,"v":0.00279},{"series":"FRF FRLE:S/BODY:0005:+Z","hz":90.5,"v":0.00153},{"series":"FRF FRLE:S/BODY:0005:+Z","hz":90.86,"v":0.000823},{"series":"FRF FRLE:S/BODY:0005:+Z","hz":91.46,"v":0.00153},{"series":"FRF FRLE:S/BODY:0005:+Z","hz":92.05,"v":0.00293},{"series":"FRF FRLE:S/BODY:0005:+Z","hz":92.84,"v":0.00545},{"series":"FRF FRLE:S/BODY:0005:+Z","hz":94.03,"v":0.00716},{"series":"FRF FRLE:S/BODY:0005:+Z","hz":96.04,"v":0.00919},{"series":"FRF FRLE:S/BODY:0005:+Z","hz":97.62,"v":0.01301},{"series":"FRF FRLE:S/BODY:0005:+Z","hz":99.21,"v":0.01669},{"series":"FRF FRLE:S/BODY:0005:+Z","hz":101.2,"v":0.02087},{"series":"FRF FRLE:S/BODY:0005:+Z","hz":103.2,"v":0.02886},{"series":"FRF FRLE:S/BODY:0005:+Z","hz":104.8,"v":0.0352},{"series":"FRF FRLE:S/BODY:0005:+Z","hz":106.4,"v":0.0419},{"series":"FRF FRLE:S/BODY:0005:+Z","hz":109.5,"v":0.04694},{"series":"FRF FRLE:S/BODY:0005:+Z","hz":110.7,"v":0.044},{"series":"FRF FRLE:S/BODY:0005:+Z","hz":111.9,"v":0.0383},{"series":"FRF FRLE:S/BODY:0005:+Z","hz":113.1,"v":0.03925},{"series":"FRF FRLE:S/BODY:0005:+Z","hz":114.7,"v":0.0498},{"series":"FRF FRLE:S/BODY:0005:+Z","hz":115.9,"v":0.05507},{"series":"FRF FRLE:S/BODY:0005:+Z","hz":117.1,"v":0.06555},{"series":"FRF FRLE:S/BODY:0005:+Z","hz":119.9,"v":0.082},{"series":"FRF FRLE:S/BODY:0005:+Z","hz":123.1,"v":0.0975},{"series":"FRF FRLE:S/BODY:0005:+Z","hz":126.2,"v":0.096},{"series":"FRF FRLE:S/BODY:0005:+Z","hz":129.4,"v":0.0985},{"series":"FRF FRLE:S/BODY:0005:+Z","hz":133.4,"v":0.0852},{"series":"FRF FRLE:S/BODY:0005:+Z","hz":135.4,"v":0.0852},{"series":"FRF FRLE:S/BODY:0005:+Z","hz":138.6,"v":0.0985},{"series":"FRF FRLE:S/BODY:0005:+Z","hz":140,"v":0.0952}
]},
"vconcat":[
{"bounds":"flush","spacing":19,"hconcat":[
{"width":182,"height":492,"view":{"stroke":null},"data":{"values":[]},"mark":"rect"},
{"width":970,"height":492,"resolve":{"axis":{"x":"independent","y":"independent"}},"layer":[
{"data":{"name":"strips"},"mark":{"type":"rect"},"encoding":{
"x":{"field":"from","type":"quantitative","scale":{"domain":[1000,4100],"nice":false,"zero":false},"axis":{"orient":"bottom","zindex":1,"values":[1000,1200,1400,1600,1800,2000,2200,2400,2550,2600,2800,3000,3200,3400,3600,3800,4000,4100],"labelExpr":"datum.value==2550?'rpm':(datum.value==1000||datum.value==4100)?format(datum.value,'.2f'):''","labelFlush":true,"labelPadding":4,"tickSize":{"condition":[{"test":"datum.value==1000||datum.value==2550||datum.value==4100","value":0},{"test":"datum.value%1000==0","value":-32}],"value":-9}}},
"x2":{"field":"to"},
"y":{"field":"ch","type":"nominal","scale":{"domain":["0001:+X","0001:+Y","0001:+Z","0002:+X","0002:+Y","0002:+Z","0005:+X","0005:+Y","0005:+Z","Total"],"paddingInner":0.186,"paddingOuter":0.18},"axis":{"orient":"left","ticks":false,"labelAlign":"left","labelPadding":245,"labelLimit":300,"minExtent":245,"maxExtent":245,"labelExpr":"'□ Order 2.00 FRLE:S<'+(datum.value=='Total'?'Total':'BODY:'+datum.value)"}},
"color":{"field":"db","type":"quantitative","scale":{"type":"threshold","domain":[13.64,17.27,20.91,24.55,28.18,31.82,35.45,39.09,42.73,46.36,50,53.64,57.27,60.91,64.55,68.18,71.82,75.45,79.09,82.73,86.36],"range":["#00207F","#0024B8","#0020FF","#0055FF","#0075FF","#009BFF","#00BBFF","#00E0FF","#00D8C8","#00C090","#00B96A","#00C040","#00DB30","#30E80E","#96DD2D","#C4E90F","#E6F212","#FBFB3F","#E8DC00","#F4B800","#F77F00","#FF3333"]},"legend":null}}},
{"data":{"values":[{"rpm":1417.41,"ch":"Total","label":"1417.41"}]},"mark":{"type":"rule","color":"#000"},"encoding":{"x":{"field":"rpm","type":"quantitative","axis":{"orient":"top","zindex":1,"values":[1200,1400,1417.41,1600,1800,2000,2200,2400,2600,2800,3000,3200,3400,3600,3800,4000],"labelExpr":"datum.value==1417.41?'▼':''","labelPadding":-1,"tickSize":{"condition":[{"test":"datum.value==1417.41","value":0},{"test":"datum.value%1000==0","value":-32}],"value":-9}}}}},
{"data":{"values":[{"rpm":1417.41,"ch":"Total","label":"1417.41"}]},"mark":{"type":"rect","width":56,"height":19,"xOffset":26,"yOffset":19,"fill":"#E6E6E6","stroke":"#000"},"encoding":{"x":{"field":"rpm","type":"quantitative","axis":null},"y":{"field":"ch","type":"nominal","axis":null}}},
{"data":{"values":[{"rpm":1417.41,"ch":"Total","label":"1417.41"}]},"mark":{"type":"text","align":"left","xOffset":1,"yOffset":19},"encoding":{"x":{"field":"rpm","type":"quantitative","axis":null},"y":{"field":"ch","type":"nominal","axis":null},"text":{"field":"label"}}}
]},
{"width":29,"height":492,"view":{"stroke":null},"data":{"name":"bands"},"mark":{"type":"rect"},"encoding":{
"x":{"value":0},"x2":{"value":29},
"y":{"field":"lo","type":"quantitative","scale":{"domain":[10,90],"nice":false,"zero":false},"axis":{"orient":"right","zindex":1,"domain":true,"domainColor":"#000","values":[10,15,20,25,30,35,40,45,50,55,60,65,70,75,80,85,90],"labelExpr":"(datum.value==10||datum.value==90)?format(datum.value,'.2f'):''","labelFlush":true,"labelPadding":2,"tickSize":{"condition":[{"test":"datum.value==10||datum.value==90","value":0},{"test":"datum.value%10==0","value":-10}],"value":-5},"title":["dB","Pa"],"titleAngle":270,"titleX":17,"titleY":246,"titleLineHeight":19}},
"y2":{"field":"hi"},
"color":{"field":"db","type":"quantitative","scale":{"type":"threshold","domain":[13.64,17.27,20.91,24.55,28.18,31.82,35.45,39.09,42.73,46.36,50,53.64,57.27,60.91,64.55,68.18,71.82,75.45,79.09,82.73,86.36],"range":["#00207F","#0024B8","#0020FF","#0055FF","#0075FF","#009BFF","#00BBFF","#00E0FF","#00D8C8","#00C090","#00B96A","#00C040","#00DB30","#30E80E","#96DD2D","#C4E90F","#E6F212","#FBFB3F","#E8DC00","#F4B800","#F77F00","#FF3333"]},"legend":null}}}
]},
{"hconcat":[
{"width":557,"height":463,"resolve":{"axis":{"x":"independent","y":"independent"},"scale":{"x":"independent"}},"layer":[
{"data":{"name":"orders"},"mark":{"type":"line","strokeWidth":3},"encoding":{
"x":{"field":"rpm","type":"quantitative","scale":{"domain":[1000,4100],"nice":false,"zero":false},"axis":{"orient":"bottom","values":[1000,1200,1400,1800,2000,2200,2400,2550,2600,2800,3000,3200,3400,3600,3800,4000,4100],"labelExpr":"datum.value==2550?'rpm':(datum.value==1000||datum.value==4100)?format(datum.value,'.2f'):''","labelFlush":true,"labelPadding":2,"title":"Tacho1","titlePadding":4,"tickSize":{"condition":[{"test":"datum.value==1000||datum.value==2550||datum.value==4100","value":0},{"test":"datum.value%1000==0","value":-24}],"value":-7}}},
"y":{"field":"dB","type":"quantitative","scale":{"domain":[40,90],"nice":false,"zero":false},"axis":{"orient":"left","minExtent":46,"values":[40,42.5,45,47.5,50,52.5,55,57.5,60,62.5,65,67.5,70,72.5,75,77.5,80,82.5,85,87.5,90],"labelExpr":"(datum.value==40||datum.value==90)?format(datum.value,'.2f'):''","labelFlush":true,"labelPadding":3,"tickSize":{"condition":[{"test":"datum.value==40||datum.value==90","value":0},{"test":"datum.value%10==0","value":-24},{"test":"datum.value%5==0","value":-12}],"value":-6},"title":["Pa","dB"],"titleAngle":270,"titleX":-22,"titleY":231,"titleLineHeight":19}},
"stroke":{"field":"series","type":"nominal","scale":{"domain":["Total","BODY:0005:+Z"],"range":["#ff0000","#0000ff"]},"legend":{"orient":"none","legendX":220,"legendY":370,"title":["□ F","□ F"],"titleOrient":"left","titleFontSize":14,"titleFontWeight":"normal","titleLineHeight":16,"titlePadding":16,"labelFontSize":14,"labelLimit":400,"labelOffset":15,"labelColor":"#111","titleColor":"#111","labelExpr":"'Order 2.00 FRLE:S<'+datum.label","symbolType":"M-3.2,0H3.2","symbolSize":100,"symbolStrokeWidth":3,"rowPadding":2,"padding":6,"strokeColor":"#000060","fillColor":"#fff"}}}},
{"data":{"values":[{"hz":47.25}]},"mark":{"type":"rule","color":"#000"},"encoding":{"x":{"field":"hz","type":"quantitative","scale":{"domain":[33.33,136.67],"nice":false,"zero":false},"axis":{"orient":"top","values":[33.33,40,47.25,50,60,70,80,85,90,100,110,120,130,136.67],"labelExpr":"datum.value==85?'Hz':datum.value==47.25?'▼':(datum.value==33.33||datum.value==136.67)?format(datum.value,'.2f'):''","labelFlush":true,"labelPadding":{"condition":{"test":"datum.value==47.25","value":0},"value":4},"tickSize":{"condition":[{"test":"datum.value==33.33||datum.value==47.25||datum.value==85||datum.value==136.67","value":0},{"test":"datum.value==100","value":-23},{"test":"datum.value==50","value":-12}],"value":-6}}}}},
{"data":{"values":[{"rpm":1417.41,"dB":40,"label":"1417.41"}]},"mark":{"type":"rect","width":56,"height":20,"xOffset":26,"yOffset":-10,"fill":"#E6E6E6","stroke":"#000"},"encoding":{"x":{"field":"rpm","type":"quantitative","scale":{"domain":[1000,4100],"nice":false,"zero":false},"axis":null},"y":{"field":"dB","type":"quantitative","axis":null}}},
{"data":{"values":[{"rpm":1417.41,"dB":40,"label":"47.25"}]},"mark":{"type":"rect","width":41,"height":19,"xOffset":18,"yOffset":-31,"fill":"#E6E6E6","stroke":"#000"},"encoding":{"x":{"field":"rpm","type":"quantitative","scale":{"domain":[1000,4100],"nice":false,"zero":false},"axis":null},"y":{"field":"dB","type":"quantitative","axis":null}}},
{"data":{"values":[{"rpm":1417.41,"dB":40,"label":"1417.41"}]},"mark":{"type":"text","align":"left","xOffset":1,"yOffset":-10},"encoding":{"x":{"field":"rpm","type":"quantitative","scale":{"domain":[1000,4100],"nice":false,"zero":false},"axis":null},"y":{"field":"dB","type":"quantitative","axis":null},"text":{"field":"label"}}},
{"data":{"values":[{"rpm":1417.41,"dB":40,"label":"47.25"}]},"mark":{"type":"text","align":"left","xOffset":1,"yOffset":-31},"encoding":{"x":{"field":"rpm","type":"quantitative","scale":{"domain":[1000,4100],"nice":false,"zero":false},"axis":null},"y":{"field":"dB","type":"quantitative","axis":null},"text":{"field":"label"}}}
]},
{"width":503,"height":463,"resolve":{"axis":{"x":"independent","y":"independent"}},"layer":[
{"data":{"name":"frf"},"mark":{"type":"line","strokeWidth":4},"encoding":{
"x":{"field":"hz","type":"quantitative","scale":{"domain":[20,140],"nice":false,"zero":false},"axis":{"orient":"bottom","values":[20,30,40,60,70,80,90,100,110,120,130,140],"labelExpr":"datum.value==80?'Hz':(datum.value==20||datum.value==140)?format(datum.value,'.2f'):''","labelFlush":true,"labelPadding":{"condition":{"test":"datum.value==80","value":9},"value":2},"tickSize":{"condition":[{"test":"datum.value==20||datum.value==140","value":0},{"test":"datum.value==100","value":-24}],"value":-7}}},
"y":{"field":"v","type":"quantitative","scale":{"type":"log","domain":[0.0001,0.1],"nice":false},"axis":{"orient":"left","minExtent":70,"values":[0.0001,0.0002,0.0003,0.0004,0.0005,0.0006,0.0007,0.0008,0.0009,0.001,0.002,0.003,0.004,0.005,0.006,0.007,0.008,0.009,0.01,0.02,0.03,0.04,0.05,0.06,0.07,0.08,0.09,0.1],"labelExpr":"datum.value==0.1?'0.10':datum.value==0.0001?'100.00e-6':''","labelFlush":true,"labelPadding":2,"tickSize":{"condition":[{"test":"datum.value==0.1||datum.value==0.0001","value":0},{"test":"datum.value==0.01||datum.value==0.001","value":-24}],"value":-12},"title":["Pa/N","Log"],"titleAngle":270,"titleX":-23,"titleY":231,"titleLineHeight":18}},
"stroke":{"field":"series","type":"nominal","scale":{"range":["#ff0000"]},"legend":{"orient":"none","legendX":277,"legendY":71,"title":"□ F","titleOrient":"left","titleFontSize":14,"titleFontWeight":"normal","titlePadding":16,"labelFontSize":14,"labelLimit":400,"labelOffset":16,"labelColor":"#111","titleColor":"#111","symbolType":"M-3.2,0H3.2","symbolSize":100,"symbolStrokeWidth":4,"padding":5,"strokeColor":"#000060","fillColor":"#fff"}}}},
{"data":{"values":[{"hz":47.53,"v":0.0001,"label":"47.53"}]},"mark":{"type":"rule","color":"#000"},"encoding":{"x":{"field":"hz","type":"quantitative","axis":{"orient":"top","values":[47.53],"labelExpr":"'▼'","labelPadding":0,"ticks":false}}}},
{"data":{"values":[{"hz":47.53,"v":0.0001,"label":"47.53"}]},"mark":{"type":"rect","width":39,"height":20,"xOffset":18,"yOffset":-10,"fill":"#E6E6E6","stroke":"#000"},"encoding":{"x":{"field":"hz","type":"quantitative","axis":null},"y":{"field":"v","type":"quantitative","axis":null}}},
{"data":{"values":[{"hz":47.53,"v":0.0001,"label":"47.53"}]},"mark":{"type":"text","align":"left","xOffset":0,"yOffset":-10},"encoding":{"x":{"field":"hz","type":"quantitative","axis":null},"y":{"field":"v","type":"quantitative","axis":null},"text":{"field":"label"}}}
]}
],"spacing":51,"resolve":{"scale":{"stroke":"independent"}}}
]}
